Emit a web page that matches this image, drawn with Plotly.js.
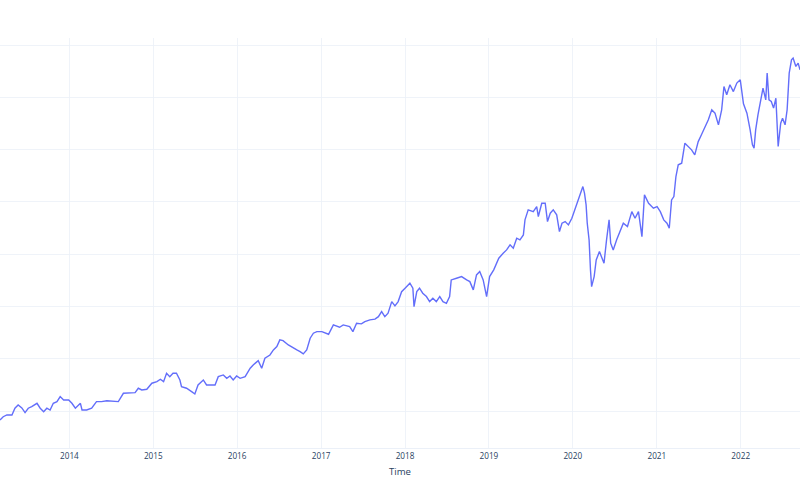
<!DOCTYPE html>
<html>
<head>
<meta charset="utf-8">
<script src="https://cdn.plot.ly/plotly-3.0.1.min.js"></script>
<style>
  html, body { margin: 0; padding: 0; background: #fff; }
  #graph { width: 800px; height: 500px; }
</style>
</head>
<body>
<div id="graph"></div>
<script>
// values (y axis has no labels, so units are arbitrary)
const dates = [
  "2013-03-05","2013-03-19","2013-04-04","2013-04-26","2013-05-09","2013-05-23","2013-06-08","2013-06-22",
  "2013-07-06","2013-07-21","2013-08-13","2013-08-27","2013-09-11","2013-09-25","2013-10-09","2013-10-23",
  "2013-11-08","2013-11-22","2013-12-07","2013-12-29","2014-01-12","2014-01-27","2014-02-18","2014-02-25",
  "2014-03-17","2014-04-08","2014-04-29","2014-05-21","2014-06-13","2014-07-11","2014-08-02","2014-08-24",
  "2014-09-15","2014-10-14","2014-10-28","2014-11-12","2014-12-04","2014-12-26","2015-01-17","2015-02-01",
  "2015-02-15","2015-02-28","2015-03-14","2015-03-28","2015-04-12","2015-04-27","2015-05-04","2015-05-26",
  "2015-06-17","2015-07-01","2015-07-15","2015-08-07","2015-08-21","2015-09-05","2015-09-27","2015-10-11",
  "2015-11-02","2015-11-17","2015-12-01","2015-12-15","2015-12-30","2016-01-14","2016-02-05","2016-02-27",
  "2016-03-11","2016-04-02","2016-04-17","2016-05-01","2016-05-23","2016-06-07","2016-06-22","2016-07-05",
  "2016-07-19","2016-08-11","2016-09-02","2016-09-17","2016-10-01","2016-10-15","2016-10-30","2016-11-14",
  "2016-11-28","2016-12-13","2017-01-04","2017-01-18","2017-02-02","2017-02-23","2017-03-08","2017-03-22",
  "2017-04-07","2017-04-21","2017-05-05","2017-05-19","2017-06-04","2017-06-25","2017-07-10","2017-08-01",
  "2017-08-23","2017-09-07","2017-09-21","2017-10-05","2017-10-19","2017-11-04","2017-11-18","2017-12-02",
  "2017-12-17","2018-01-01","2018-01-15","2018-01-22","2018-02-04","2018-02-09","2018-02-21","2018-03-05",
  "2018-03-19","2018-04-04","2018-04-18","2018-05-02","2018-05-17","2018-06-01","2018-06-15","2018-06-30",
  "2018-07-14","2018-07-21","2018-08-13","2018-09-04","2018-09-26","2018-10-10","2018-10-25","2018-11-08",
  "2018-11-22","2018-12-07","2018-12-22","2019-01-04","2019-01-22","2019-02-13","2019-03-04","2019-03-19",
  "2019-04-03","2019-04-17","2019-05-02","2019-05-16","2019-05-31","2019-06-07","2019-06-21","2019-07-13",
  "2019-07-28","2019-08-04","2019-08-19","2019-09-03","2019-09-13","2019-09-25","2019-10-08","2019-10-23",
  "2019-11-04","2019-11-15","2019-11-29","2019-12-13","2019-12-28","2020-01-16","2020-01-31","2020-02-14",
  "2020-02-21","2020-02-28","2020-03-04","2020-03-12","2020-03-18","2020-03-23","2020-04-03","2020-04-12",
  "2020-04-26","2020-05-06","2020-05-16","2020-05-27","2020-06-07","2020-06-14","2020-06-25","2020-07-10",
  "2020-07-24","2020-08-08","2020-08-26","2020-09-14","2020-09-28","2020-10-13","2020-10-28","2020-11-08",
  "2020-11-26","2020-12-17","2021-01-02","2021-01-16","2021-01-31","2021-02-14","2021-02-24","2021-03-06",
  "2021-03-16","2021-03-25","2021-04-04","2021-04-19","2021-05-03","2021-05-17","2021-06-01","2021-06-15",
  "2021-06-30","2021-07-14","2021-07-29","2021-08-13","2021-08-28","2021-09-11","2021-09-26","2021-10-10",
  "2021-10-20","2021-11-01","2021-11-15","2021-11-30","2021-12-15","2021-12-30","2022-01-13","2022-01-28",
  "2022-02-11","2022-02-21","2022-02-28","2022-03-07","2022-03-17","2022-03-29","2022-04-08","2022-04-20",
  "2022-04-26","2022-05-04","2022-05-14","2022-05-24","2022-06-03","2022-06-13","2022-06-24","2022-07-02",
  "2022-07-13","2022-07-22","2022-07-31","2022-08-10","2022-08-17","2022-08-29","2022-09-08","2022-09-16"
];
const price = [
  41.7, 44.8, 46.5, 46.5, 52.9, 56.0, 53.2, 48.7,
  52.9, 54.4, 57.6, 52.9, 49.6, 52.9, 51.2, 57.6,
  59.2, 64.0, 60.8, 60.8, 57.6, 52.9, 57.6, 51.2,
  51.2, 52.9, 59.2, 59.2, 60.1, 59.8, 59.2, 67.2,
  67.2, 67.8, 72.0, 70.4, 71.0, 76.8, 78.3, 80.6,
  78.3, 86.3, 83.1, 86.3, 86.3, 79.9, 73.5, 72.0,
  68.7, 66.5, 75.1, 79.9, 75.1, 75.1, 75.1, 83.1,
  84.7, 81.5, 83.7, 79.9, 83.7, 81.5, 83.1, 91.1,
  94.3, 98.4, 91.1, 100.7, 103.8, 108.6, 111.8, 118.2,
  117.5, 113.4, 110.2, 108.6, 107.0, 104.8, 108.6, 119.8,
  124.6, 126.1, 126.1, 124.6, 123.6, 132.5, 131.5, 130.3,
  132.5, 131.5, 130.9, 126.1, 134.1, 133.5, 135.7, 137.3,
  138.0, 140.4, 145.2, 140.4, 143.7, 154.8, 150.7, 154.8,
  164.3, 167.6, 170.7, 172.4, 167.6, 150.0, 164.3, 167.6,
  162.8, 159.6, 154.8, 158.0, 154.8, 159.6, 154.8, 153.2,
  159.6, 175.5, 177.1, 178.7, 175.5, 173.9, 166.0, 180.3,
  183.5, 175.5, 159.6, 178.7, 185.1, 196.3, 201.0, 204.2,
  209.0, 205.8, 215.4, 213.8, 218.5, 232.9, 242.5, 240.8,
  245.6, 236.1, 248.8, 248.8, 231.3, 239.3, 242.5, 237.7,
  221.7, 229.7, 231.3, 228.1, 234.5, 247.2, 255.2, 264.7,
  258.4, 247.2, 229.7, 213.8, 185.1, 169.1, 178.7, 194.6,
  202.6, 197.8, 191.5, 213.8, 232.9, 210.6, 204.2, 213.8,
  221.7, 229.7, 226.5, 240.8, 234.5, 240.8, 216.9, 256.8,
  248.8, 244.1, 245.6, 240.8, 232.9, 229.7, 224.9, 252.0,
  255.2, 274.3, 285.5, 287.1, 306.2, 303.0, 299.8, 295.0,
  307.7, 314.2, 320.6, 328.5, 338.1, 334.9, 323.7, 338.1,
  360.3, 352.4, 362.0, 355.5, 363.6, 366.7, 343.8, 334.9,
  318.9, 304.6, 301.4, 318.9, 333.3, 347.6, 358.8, 347.6,
  373.1, 347.6, 346.0, 339.7, 349.2, 303.0, 325.3, 330.1,
  323.7, 338.1, 373.1, 385.9, 387.5, 379.5, 382.7, 376.3
];

const grid = '#EBF0F8';

Plotly.newPlot('graph', [{
    x: dates,
    y: price,
    type: 'scatter',
    mode: 'lines',
    line: { color: '#636efa', width: 1.4 },
    showlegend: false
}], {
    width: 800,
    height: 500,
    paper_bgcolor: '#fff',
    plot_bgcolor: '#fff',
    font: { family: '"Open Sans", verdana, arial, sans-serif', size: 8.2, color: '#2a3f5f' },
    margin: { l: 0, r: 0, t: 38, b: 52 },
    xaxis: {
        type: 'date',
        title: { text: 'Time', font: { size: 9.6 }, standoff: 8 },
        gridcolor: grid,
        gridwidth: 0.8,
        linecolor: grid,
        zeroline: false,
        ticks: '',
        dtick: 'M12',
        tickformat: '%Y'
    },
    yaxis: {
        range: [14.9, 406.7],
        dtick: 50,
        tick0: 0,
        gridcolor: grid,
        gridwidth: 0.8,
        linecolor: grid,
        zeroline: false,
        showticklabels: false,
        ticks: ''
    }
}, { displayModeBar: false, staticPlot: true });
</script>
</body>
</html>
